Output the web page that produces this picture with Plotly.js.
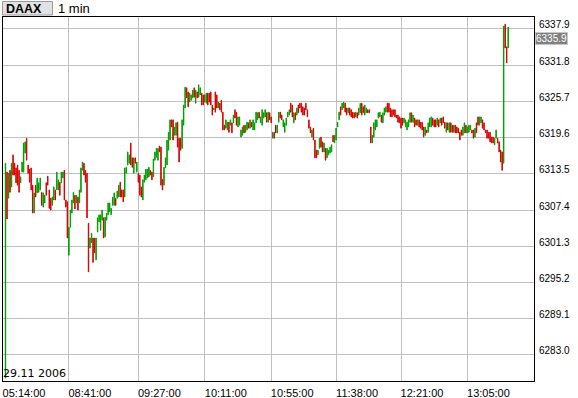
<!DOCTYPE html>
<html><head><meta charset="utf-8">
<script src="https://cdn.plot.ly/plotly-3.0.1.min.js"></script>
<style>html,body{margin:0;padding:0;background:#fff;}#chart{width:578px;height:398px;}</style>
</head><body><div id="chart"></div>
<script>
const symbol = 'DAAX';
const interval = '1 min';
const dateLabel = '29.11 2006';
const lastPrice = 6335.9;
const tickIdx = [-1.65, 42, 88, 132, 176, 219, 262, 306];
const tickLabels = ['05:14:00', '08:41:00', '09:27:00', '10:11:00', '10:55:00', '11:38:00', '12:21:00', '13:05:00'];
const yTicks = [6283.0, 6289.1, 6295.2, 6301.3, 6307.4, 6313.5, 6319.6, 6325.7, 6331.8, 6337.9];

// g = rising bar, r = falling bar
const dirs =
  "grgrgrrrrr" + "ggggrrrrrg" + "rgggrggrrr" + "rggrggrggr" + "rrggggrgrg" + "ggrrrrggrr" +
  "gggggrgggg" + "gggrggrrrg" + "gggrrgrgrr" + "rgggggrrgg" + "ggrrrggggg" +
  "rrggrrrggg" + "rrgggrgrgg" + "rrggrrrrgr" + "rgrrrrggrg" + "rgrrggggrg" + "grgrggggrg" +
  "gggrgrrgrr" + "ggrrgggggr" + "rgrgrrrrrr" + "rrrgrrrggr" + "rgrggggrgg" +
  "ggrggrrgrr" + "rrgrggrrgg" + "rrrggggggr" + "gggrrrrrrr" + "rrrrgggggr" + "grrgrrrrgr" +
  "gggrrrgrgr" + "rrgrgrrgrr" + "rrrggrgggr" + "rgrrggrrrr" + "rrrrggrrrr" + "grrg";

const highs = [
6315.3,6313.8,6313.6,6314.1,6315.3,6316.7,6315.3,6314.5,6315.0,6314.1,
6313.0,6315.5,6318.7,6318.9,6319.5,6315.0,6314.3,6314.5,6311.6,6310.3,
6311.6,6312.8,6312.0,6312.8,6310.4,6310.3,6309.9,6312.0,6313.1,6310.8,
6309.4,6309.6,6311.3,6310.8,6313.8,6312.5,6312.1,6313.8,6313.8,6314.1,
6309.1,6308.8,6304.5,6307.4,6309.1,6310.4,6309.9,6309.9,6309.6,6310.8,
6314.5,6315.5,6315.3,6314.1,6313.6,6305.2,6302.7,6303.5,6302.7,6302.7,
6302.7,6306.1,6306.6,6306.6,6307.4,6306.1,6306.2,6306.9,6308.6,6308.6,
6307.7,6309.6,6310.3,6309.4,6310.6,6311.6,6312.1,6310.8,6310.8,6314.5,
6314.6,6317.2,6316.7,6318.7,6316.2,6316.2,6316.2,6315.5,6313.6,6313.3,
6311.3,6312.5,6313.3,6314.3,6314.3,6314.6,6314.1,6313.8,6316.0,6317.2,
6317.8,6317.8,6318.2,6318.0,6312.6,6314.6,6316.2,6319.2,6320.5,6322.6,
6322.6,6322.6,6321.4,6322.1,6322.2,6319.5,6319.5,6322.6,6325.1,6328.1,
6328.0,6327.3,6327.1,6326.8,6327.6,6328.0,6327.6,6327.3,6328.5,6328.0,
6327.1,6326.8,6326.8,6327.1,6327.1,6327.1,6327.3,6325.1,6324.6,6327.3,
6326.8,6325.6,6325.4,6325.9,6323.9,6321.7,6322.6,6322.2,6322.2,6322.6,
6322.1,6323.4,6324.3,6323.9,6323.1,6323.1,6320.9,6321.4,6321.7,6321.7,
6322.2,6322.1,6322.6,6322.2,6322.6,6322.1,6323.9,6323.8,6323.9,6323.1,
6324.3,6323.8,6324.3,6323.8,6323.9,6323.8,6323.1,6320.5,6320.5,6321.7,
6321.7,6323.9,6323.9,6323.4,6322.6,6322.1,6322.9,6323.9,6324.3,6325.4,
6325.1,6323.8,6323.8,6324.6,6325.1,6325.4,6325.4,6324.8,6324.6,6325.4,
6324.3,6322.6,6321.4,6320.9,6321.2,6319.2,6317.5,6317.5,6319.5,6319.7,
6318.9,6318.7,6317.8,6317.8,6317.5,6318.0,6318.4,6320.0,6320.0,6321.2,
6322.2,6323.9,6324.8,6325.4,6325.6,6325.4,6324.6,6324.6,6324.6,6324.3,
6323.9,6323.8,6323.9,6323.8,6324.6,6325.4,6325.4,6324.8,6325.1,6324.6,
6324.3,6324.3,6321.4,6320.0,6322.1,6322.6,6322.6,6323.8,6323.9,6323.4,
6323.8,6324.6,6324.8,6325.4,6325.4,6324.6,6324.3,6324.3,6324.3,6323.4,
6323.4,6323.1,6322.9,6322.9,6322.9,6322.6,6322.2,6322.6,6323.8,6323.8,
6323.4,6322.9,6322.6,6322.6,6322.6,6322.2,6322.2,6321.4,6321.4,6320.9,
6322.1,6322.9,6323.1,6322.9,6322.6,6322.6,6322.9,6322.6,6322.9,6322.9,
6323.1,6322.2,6322.1,6322.1,6322.1,6322.1,6321.7,6321.7,6321.7,6321.4,
6321.2,6320.5,6320.9,6321.4,6322.1,6321.7,6321.4,6321.7,6321.7,6320.9,
6320.9,6321.2,6322.1,6323.1,6323.1,6323.1,6322.6,6322.1,6320.9,6320.9,
6320.5,6320.5,6319.7,6319.7,6319.5,6320.9,6319.5,6318.9,6317.5,6317.2,
6338.4,6338.7,6334.9,6338.2
];

const lows = [
6279.1,6305.9,6309.4,6310.4,6311.3,6313.3,6313.3,6312.0,6311.6,6310.4,
6312.0,6313.8,6313.8,6317.0,6315.8,6313.6,6312.1,6310.8,6306.9,6306.9,
6309.6,6310.3,6310.4,6310.8,6308.2,6307.9,6308.6,6309.9,6311.6,6307.7,
6307.4,6308.2,6309.1,6309.1,6310.8,6310.8,6309.9,6312.0,6312.8,6309.1,
6307.9,6302.7,6299.8,6304.5,6306.9,6308.6,6307.6,6308.6,6307.4,6308.6,
6310.4,6314.1,6313.3,6312.1,6306.1,6297.0,6301.0,6301.9,6298.6,6300.2,
6299.0,6303.7,6305.4,6304.0,6305.7,6302.7,6302.9,6305.7,6306.6,6307.1,
6306.6,6308.2,6308.2,6308.2,6309.4,6309.6,6309.6,6309.6,6308.8,6309.6,
6313.6,6315.0,6315.3,6315.0,6314.6,6313.6,6315.3,6313.8,6312.1,6309.9,
6309.6,6309.1,6312.1,6312.5,6312.8,6313.0,6313.3,6312.5,6313.0,6315.8,
6316.3,6315.8,6317.2,6311.6,6310.8,6311.6,6314.5,6315.0,6317.5,6319.2,
6321.4,6319.2,6320.0,6320.0,6318.0,6315.5,6317.5,6317.8,6321.7,6324.6,
6326.3,6324.8,6325.6,6325.9,6326.3,6326.4,6325.4,6326.3,6326.4,6326.8,
6325.1,6325.1,6325.6,6325.4,6325.1,6325.6,6325.1,6323.4,6324.3,6323.9,
6324.6,6324.6,6324.3,6323.9,6320.9,6320.9,6321.2,6320.9,6320.5,6321.7,
6320.4,6322.1,6322.9,6321.7,6321.4,6321.7,6319.7,6320.0,6320.4,6320.5,
6320.9,6321.2,6321.2,6321.4,6320.9,6320.9,6322.1,6322.6,6322.9,6322.1,
6321.7,6322.9,6323.1,6322.2,6322.2,6322.6,6322.1,6319.5,6319.5,6320.4,
6320.4,6322.2,6322.9,6322.6,6321.4,6320.5,6321.7,6323.1,6323.4,6323.9,
6323.1,6322.1,6322.6,6323.4,6323.8,6324.6,6323.9,6323.4,6323.4,6324.3,
6323.1,6321.2,6320.4,6319.7,6319.2,6316.2,6316.2,6316.7,6317.8,6318.0,
6317.2,6317.2,6315.8,6316.2,6316.7,6317.0,6317.2,6318.9,6318.7,6319.2,
6321.4,6322.6,6323.4,6324.3,6324.6,6323.9,6323.4,6323.8,6323.4,6323.1,
6322.9,6322.9,6323.1,6322.9,6323.4,6323.8,6323.4,6323.8,6323.4,6323.8,
6323.8,6323.8,6318.7,6318.7,6319.7,6320.9,6321.4,6322.9,6323.1,6322.2,
6322.1,6323.4,6323.9,6323.9,6323.9,6323.1,6323.1,6323.4,6323.1,6322.9,
6322.2,6322.1,6321.2,6321.7,6322.1,6321.4,6320.9,6321.4,6322.2,6322.2,
6322.2,6321.4,6321.7,6321.7,6321.4,6321.2,6320.9,6319.7,6320.0,6320.4,
6320.5,6321.4,6321.4,6321.7,6321.4,6321.4,6321.7,6321.4,6322.1,6321.7,
6322.1,6321.2,6320.5,6320.9,6320.5,6320.5,6320.5,6320.5,6320.4,6320.4,
6320.4,6319.2,6320.0,6320.0,6320.4,6320.4,6320.4,6320.5,6320.9,6320.4,
6319.5,6319.7,6320.4,6321.7,6321.7,6322.1,6321.2,6320.9,6320.4,6319.5,
6319.5,6318.9,6318.7,6318.7,6318.4,6319.5,6318.7,6317.2,6315.5,6314.1,
6315.3,6334.7,6332.2,6334.7
];

const xs = highs.map((_, i) => i);
const opens = highs.map((h, i) => dirs[i] === 'g' ? lows[i] : h);
const closes = highs.map((h, i) => dirs[i] === 'g' ? h : lows[i]);

const M = {l: 3, r: 44, t: 17, b: 17};
const W = 578 - M.l - M.r, H = 398 - M.t - M.b;
const px2x = p => (p - M.l) / W;
const px2y = p => (398 - M.b - p) / H;

const trace = {
  type: 'candlestick', x: xs, open: opens, high: highs, low: lows, close: closes,
  increasing: {line: {color: '#00a000', width: 1}, fillcolor: '#00a000'},
  decreasing: {line: {color: '#dd0000', width: 1}, fillcolor: '#dd0000'},
  whiskerwidth: 0, hoverinfo: 'skip', showlegend: false
};

const axisCommon = {
  showgrid: true, gridcolor: '#c0c0c0', gridwidth: 1,
  showline: true, mirror: true, linecolor: '#000', linewidth: 1,
  ticks: '', zeroline: false, fixedrange: true
};

const layout = {
  width: 578, height: 398, margin: M,
  paper_bgcolor: '#fff', plot_bgcolor: '#fff', showlegend: false,
  boxgap: 0.6,
  xaxis: Object.assign({}, axisCommon, {
    range: [-1.65, 350.1], tickmode: 'array', tickvals: tickIdx, ticktext: tickLabels,
    tickfont: {family: 'Liberation Sans, Arial, sans-serif', size: 11, color: '#000'},
    ticklabelshift: 21, ticklabelstandoff: 2,
    rangeslider: {visible: false}
  }),
  yaxis: Object.assign({}, axisCommon, {
    side: 'right', range: [6278.62, 6339.92], tickmode: 'array', tickvals: yTicks, tickformat: '.1f',
    tickfont: {family: 'Liberation Sans Narrow, Liberation Sans, Arial, sans-serif', size: 10, color: '#000'},
    ticklabelshift: -4, ticklabelstandoff: 2
  }),
  shapes: [{
    type: 'rect', xref: 'paper', yref: 'paper',
    x0: px2x(2.5), x1: px2x(52.5), y0: px2y(15), y1: px2y(1.5),
    fillcolor: '#e2e2e2', line: {color: '#9a9a9a', width: 1}, layer: 'above'
  }],
  annotations: [
    {xref: 'paper', yref: 'paper', x: px2x(24), y: px2y(8.5), xanchor: 'center', yanchor: 'middle',
     text: '<b>' + symbol + '</b>', showarrow: false,
     font: {family: 'Liberation Sans, Arial, sans-serif', size: 12.5, color: '#000'}},
    {xref: 'paper', yref: 'paper', x: px2x(56), y: px2y(8.5), xanchor: 'left', yanchor: 'middle',
     text: interval, showarrow: false,
     font: {family: 'Liberation Sans, Arial, sans-serif', size: 13, color: '#000'}},
    {xref: 'paper', yref: 'paper', x: px2x(1), y: px2y(373), xanchor: 'left', yanchor: 'middle',
     text: dateLabel, showarrow: false,
     font: {family: 'DejaVu Sans, sans-serif', size: 11, color: '#000'}},
    {xref: 'paper', yref: 'y', x: px2x(535), y: lastPrice, xanchor: 'left', yanchor: 'middle', yshift: 2,
     text: lastPrice.toFixed(1), showarrow: false, bgcolor: '#808080', bordercolor: '#c8c8c8',
     borderwidth: 1, borderpad: 0,
     font: {family: 'Liberation Sans Narrow, Liberation Sans, Arial, sans-serif', size: 10, color: '#fff'}}
  ]
};

Plotly.newPlot('chart', [trace], layout, {displayModeBar: false, staticPlot: true});
</script>
</body></html>
